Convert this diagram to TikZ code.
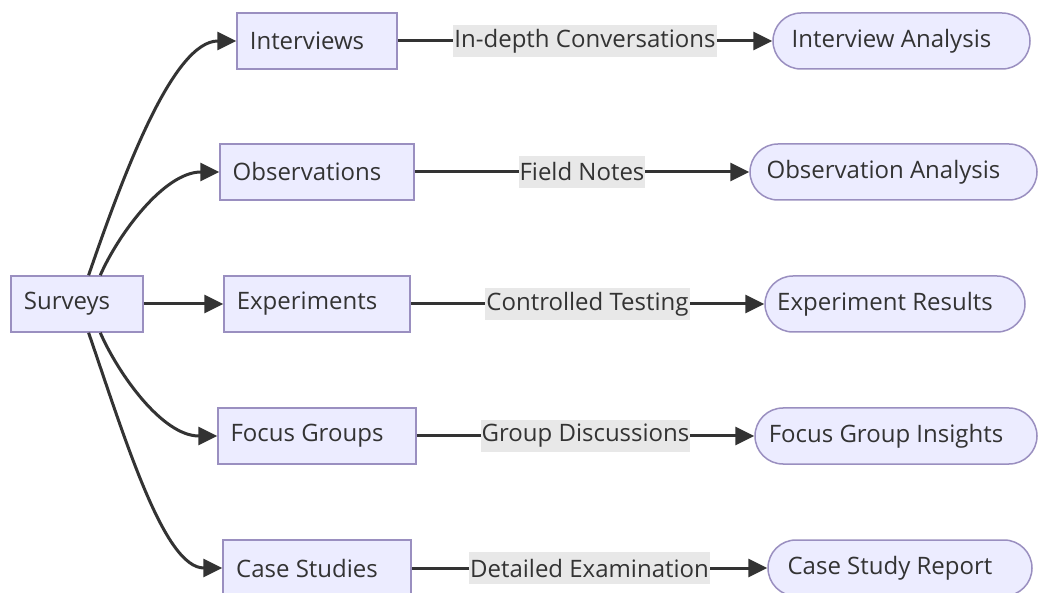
\documentclass[tikz,border=0pt]{standalone}
\usepackage{fontspec}
\setmainfont{Open Sans}
\usetikzlibrary{arrows.meta}
\definecolor{nodefill}{HTML}{ECECFF}
\definecolor{nodeline}{HTML}{9A8FC0}
\definecolor{ink}{HTML}{333333}
\definecolor{lblbg}{HTML}{E8E8E8}
\newcommand{\lft}[1]{#1\kern20pt}
\tikzset{
  box/.style={draw=nodeline, fill=nodefill, line width=1.5pt, minimum height=56pt, inner sep=0pt, text=ink, font=\fontsize{24}{29}\selectfont},
  stadium/.style={box, rounded corners=28pt},
  conn/.style={draw=ink, line width=3pt, -{Triangle[length=19pt,width=18pt]}},
  lbl/.style={fill=lblbg, text=ink, inner sep=1pt, minimum height=32pt, font=\fontsize{24}{29}\selectfont}
}
\begin{document}
\begin{tikzpicture}[x=1pt,y=-1pt]
\useasboundingbox (0,0) rectangle (1039,593);
\fill[white] (0,0) rectangle (1039,593);
\node[box, minimum width=132pt] (s) at (77,304) {\lft{Surveys}};
\node[box, minimum width=160pt] (i) at (317,41) {\lft{Interviews}};
\node[box, minimum width=194pt] (o) at (317,172) {\lft{Observations}};
\node[box, minimum width=186pt] (e) at (317,304) {\lft{Experiments}};
\node[box, minimum width=198pt] (f) at (317,436) {\lft{Focus Groups}};
\node[box, minimum width=188pt] (c) at (317,568) {\lft{Case Studies}};
\node[stadium, minimum width=257pt] (ia) at (901.5,41) {\lft{Interview Analysis}};
\node[stadium, minimum width=287pt] (oa) at (893.5,172) {\lft{Observation Analysis}};
\node[stadium, minimum width=260pt] (er) at (895,304) {\lft{Experiment Results}};
\node[stadium, minimum width=282pt] (fi) at (896,436) {\lft{Focus Group Insights}};
\node[stadium, minimum width=264pt] (cr) at (900,568) {\lft{Case Study Report}};
\draw[conn] (s.68) .. controls +(37,-108) and +(-62,0) .. (i.west);
\draw[conn] (s.51) .. controls +(18,-41) and +(-55,0) .. (o.west);
\draw[conn] (s.east) -- (e.west);
\draw[conn] (s.-51) .. controls +(18,41) and +(-55,0) .. (f.west);
\draw[conn] (s.-68) .. controls +(37,108) and +(-58,0) .. (c.west);
\draw[conn] (i.east) -- node[lbl] {In-depth Conversations} (ia.west);
\draw[conn] (o.east) -- node[lbl] {Field Notes} (oa.west);
\draw[conn] (e.east) -- node[lbl] {Controlled Testing} (er.west);
\draw[conn] (f.east) -- node[lbl] {Group Discussions} (fi.west);
\draw[conn] (c.east) -- node[lbl] {Detailed Examination} (cr.west);
\end{tikzpicture}
\end{document}
